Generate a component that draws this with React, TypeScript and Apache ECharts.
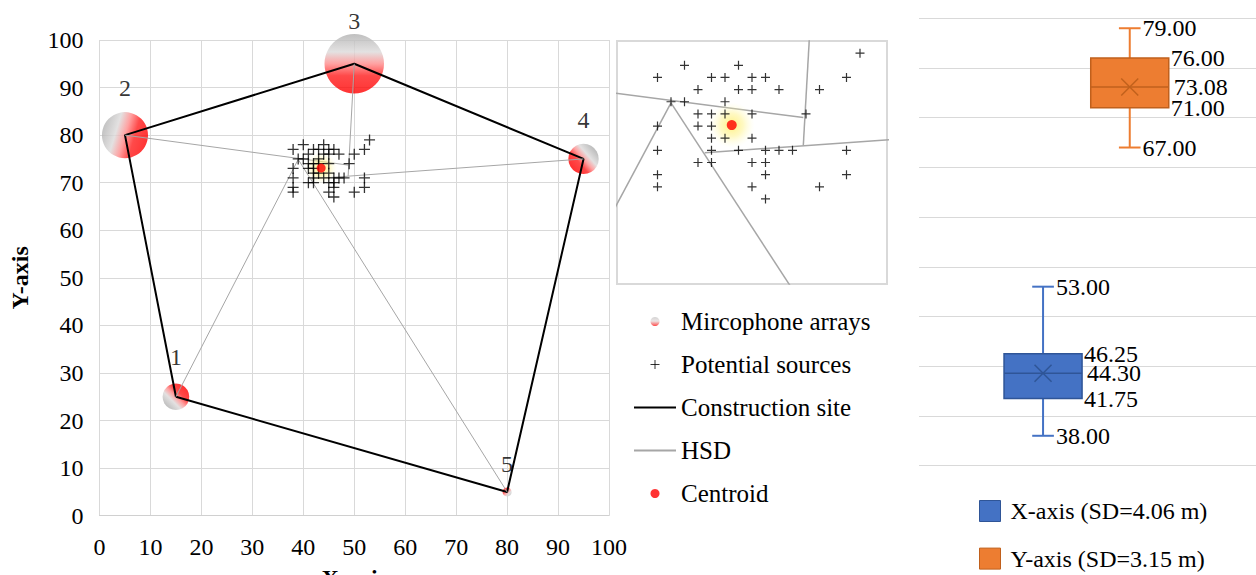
import React, { useEffect, useRef } from 'react';
import * as echarts from 'echarts';

// ---------------- data ----------------
const micNames = ['1', '2', '3', '4', '5'];
const micX = [15, 5, 50, 95, 80];
const micY = [25, 80, 95, 75, 5];
const micWeight = [0.2, 0.6, 1.0, 0.26, 0.023];
const siteOrder = [0, 1, 2, 3, 4, 0];

const potentialSources: [number, number][] = [
  [53, 79],
  [40, 78], [44, 78],
  [38, 77], [42, 77], [43, 77], [45, 77], [46, 77], [52, 77],
  [41, 76], [44, 76], [45, 76], [47, 76], [50, 76],
  [39, 75], [40, 75], [43, 75],
  [41, 74], [42, 74], [43, 74], [45, 74], [49, 74],
  [38, 73], [41, 73], [42, 73],
  [42, 72], [43, 72], [45, 72],
  [38, 71], [42, 71], [44, 71], [46, 71], [47, 71], [48, 71], [52, 71],
  [41, 70], [42, 70], [45, 70], [46, 70],
  [38, 69], [46, 69], [52, 69],
  [38, 68], [45, 68], [50, 68],
  [46, 67],
];

const centroid: [number, number] = [43.5, 73.08];

const hsdSegments: [number, number][][] = [
  [[5, 80], [48.8, 73.7]],
  [[15, 25], [39, 74.9]],
  [[80, 5], [39, 74.9]],
  [[50, 95], [48.8, 71.4]],
  [[95, 75], [41.5, 70.8]],
];

const axisTicks = [0, 10, 20, 30, 40, 50, 60, 70, 80, 90, 100];

const boxCategories = ['X-axis', 'Y-axis'];
const boxNames = ['X-axis (SD=4.06 m)', 'Y-axis (SD=3.15 m)'];
const xStats = [38.0, 41.75, 44.3, 46.25, 53.0]; // min, Q1, median, Q3, max
const yStats = [67.0, 71.0, 73.08, 76.0, 79.0];
const boxMeans = [44.3, 73.08];

// ---------------- styles ----------------
const FONT = '"Liberation Serif", "Times New Roman", Times, serif';
const CROSS = 'path://M0 5H10M5 0V10';
const micLabelDist = [14, 12, 1, 12, 11];
// gradient direction (grey end -> red end) for each bubble, in its bounding box
const micShadeDir = [
  [0.15, 0.85, 0.85, 0.15],
  [0, 0.35, 1, 0.65],
  [0.5, 0, 0.5, 1],
  [0.85, 0.2, 0.15, 0.8],
  [1, 1, 0, 0],
];

const bubbleStops = [
  { offset: 0, color: '#b0b0b0' },
  { offset: 0.3, color: '#dcdada' },
  { offset: 0.5, color: '#ff8a8a' },
  { offset: 0.7, color: '#ff1c1c' },
  { offset: 1, color: '#ff0000' },
];

function bubbleGradient(i: number) {
  const [x, y, x2, y2] = micShadeDir[i];
  return new echarts.graphic.LinearGradient(x, y, x2, y2, bubbleStops.map((s) => ({ ...s })));
}

const glow = () =>
  new echarts.graphic.RadialGradient(0.5, 0.5, 0.5, [
    { offset: 0, color: 'rgba(255,236,90,0.95)' },
    { offset: 0.5, color: 'rgba(255,242,130,0.6)' },
    { offset: 1, color: 'rgba(255,255,210,0)' },
  ]);

const boxColors = [
  { fill: '#4472C4', stroke: '#2F5597' },
  { fill: '#ED7D31', stroke: '#C0601C' },
];

function boxRender(ci: number) {
  return (params: any, api: any) => {
    const cat = api.value(0);
    const mn = api.value(1);
    const q1 = api.value(2);
    const md = api.value(3);
    const q3 = api.value(4);
    const mx = api.value(5);
    const mean = api.value(6);
    const bw = api.size([1, 0])[0];
    const cx = api.coord([cat, md])[0];
    const py = (v: number) => api.coord([cat, v])[1];
    const hb = bw * 0.45;
    const hc = bw * 0.125;
    const { fill, stroke } = boxColors[ci];
    const font = `24px ${FONT}`;
    const txt = (v: number, x: number) => ({
      type: 'text',
      style: { text: v.toFixed(2), x, y: py(v), fill: '#000', font, align: 'left', verticalAlign: 'middle' },
    });
    const m = 8.5;
    return {
      type: 'group',
      children: [
        { type: 'line', shape: { x1: cx, y1: py(mx), x2: cx, y2: py(q3) }, style: { stroke: fill, lineWidth: 2 } },
        { type: 'line', shape: { x1: cx, y1: py(q1), x2: cx, y2: py(mn) }, style: { stroke: fill, lineWidth: 2 } },
        { type: 'line', shape: { x1: cx - hc, y1: py(mx), x2: cx + hc, y2: py(mx) }, style: { stroke: fill, lineWidth: 2 } },
        { type: 'line', shape: { x1: cx - hc, y1: py(mn), x2: cx + hc, y2: py(mn) }, style: { stroke: fill, lineWidth: 2 } },
        {
          type: 'rect',
          shape: { x: cx - hb, y: py(q3), width: hb * 2, height: py(q1) - py(q3) },
          style: { fill, stroke, lineWidth: 1.5 },
        },
        { type: 'line', shape: { x1: cx - hb, y1: py(md), x2: cx + hb, y2: py(md) }, style: { stroke, lineWidth: 1.5 } },
        { type: 'line', shape: { x1: cx - m, y1: py(mean) - m, x2: cx + m, y2: py(mean) + m }, style: { stroke, lineWidth: 1.5 } },
        { type: 'line', shape: { x1: cx - m, y1: py(mean) + m, x2: cx + m, y2: py(mean) - m }, style: { stroke, lineWidth: 1.5 } },
        txt(mx, cx + hc + 2),
        txt(q3, cx + hb + 2),
        txt(mean, cx + hb + 5),
        txt(q1, cx + hb + 2),
        txt(mn, cx + hc + 2),
      ],
    };
  };
}

function buildOption() {
  const mainAxisCommon = {
    type: 'value',
    min: axisTicks[0],
    max: axisTicks[axisTicks.length - 1],
    interval: axisTicks[1] - axisTicks[0],
    nameLocation: 'middle',
    nameTextStyle: { fontSize: 24, fontWeight: 'bold', fontFamily: FONT, color: '#000' },
    axisLine: { show: true, lineStyle: { color: '#d0d0d0', width: 1 } },
    axisTick: { show: false },
    splitLine: { show: true, lineStyle: { color: '#d9d9d9', width: 1 } },
  };

  const series: any[] = [
    {
      name: 'Mircophone arrays',
      type: 'scatter',
      xAxisIndex: 0,
      yAxisIndex: 0,
      z: 1,
      clip: false,
      symbol: 'circle',
      symbolSize: (v: number[]) => 59.5 * Math.sqrt(v[2]),
      itemStyle: {
        color: new echarts.graphic.LinearGradient(0, 0, 0, 1, [
          { offset: 0, color: '#c8c8c8' },
          { offset: 0.45, color: '#e6dede' },
          { offset: 1, color: '#ff2020' },
        ]),
      },
      label: {
        show: true,
        position: 'top',
        formatter: (p: any) => micNames[p.dataIndex],
        fontSize: 24,
        fontFamily: FONT,
        color: '#000',
      },
      data: micX.map((x, i) => ({
        value: [x, micY[i], micWeight[i]],
        itemStyle: { color: bubbleGradient(i) },
        label: { distance: micLabelDist[i] },
      })),
    },
    {
      name: 'Potential sources',
      type: 'scatter',
      xAxisIndex: 0,
      yAxisIndex: 0,
      z: 3,
      symbol: CROSS,
      symbolSize: 11,
      symbolKeepAspect: true,
      itemStyle: { color: '#000', borderColor: '#000', borderWidth: 1.3 },
      data: potentialSources,
    },
    {
      name: 'Construction site',
      type: 'line',
      xAxisIndex: 0,
      yAxisIndex: 0,
      z: 2,
      symbol: 'none',
      itemStyle: { color: '#000' },
      lineStyle: { color: '#000', width: 2 },
      data: siteOrder.map((i) => [micX[i], micY[i]]),
    },
    ...hsdSegments.map((seg) => ({
      name: 'HSD',
      type: 'line',
      xAxisIndex: 0,
      yAxisIndex: 0,
      z: 2,
      symbol: 'none',
      itemStyle: { color: '#a6a6a6' },
      lineStyle: { color: '#a6a6a6', width: 1 },
      data: seg,
    })),
    {
      name: 'Centroid',
      type: 'scatter',
      xAxisIndex: 0,
      yAxisIndex: 0,
      z: 6,
      symbol: 'circle',
      symbolSize: 9,
      itemStyle: { color: '#ff0000' },
      data: [centroid],
    },
    {
      name: 'Centroid',
      type: 'scatter',
      xAxisIndex: 0,
      yAxisIndex: 0,
      z: 2.5,
      symbol: 'circle',
      symbolSize: 32,
      itemStyle: { color: glow() },
      data: [centroid],
    },
    // ---- inset ----
    {
      name: 'Potential sources',
      type: 'scatter',
      xAxisIndex: 1,
      yAxisIndex: 1,
      z: 3,
      symbol: CROSS,
      symbolSize: 9,
      symbolKeepAspect: true,
      itemStyle: { color: '#000', borderColor: '#000', borderWidth: 1.2 },
      data: potentialSources,
    },
    ...hsdSegments.map((seg) => ({
      name: 'HSD',
      type: 'line',
      xAxisIndex: 1,
      yAxisIndex: 1,
      z: 2,
      clip: true,
      symbol: 'none',
      itemStyle: { color: '#a6a6a6' },
      lineStyle: { color: '#a6a6a6', width: 1.5 },
      data: seg,
    })),
    {
      name: 'Centroid',
      type: 'scatter',
      xAxisIndex: 1,
      yAxisIndex: 1,
      z: 6,
      symbol: 'circle',
      symbolSize: 10,
      itemStyle: { color: '#ff0000' },
      data: [centroid],
    },
    {
      name: 'Centroid',
      type: 'scatter',
      xAxisIndex: 1,
      yAxisIndex: 1,
      z: 2.5,
      symbol: 'circle',
      symbolSize: 46,
      itemStyle: { color: glow() },
      data: [centroid],
    },
    // ---- box plots ----
    ...[xStats, yStats].map((st, ci) => ({
      name: boxNames[ci],
      type: 'custom',
      xAxisIndex: 3,
      yAxisIndex: 3,
      itemStyle: { color: boxColors[ci].fill, borderColor: boxColors[ci].stroke, borderWidth: 1 },
      encode: { x: 0, y: [1, 2, 3, 4, 5, 6] },
      renderItem: boxRender(ci),
      data: [[boxCategories[ci], ...st, boxMeans[ci]]],
    })),
  ];

  return {
    animation: false,
    backgroundColor: '#ffffff',
    textStyle: { fontFamily: FONT },
    grid: [
      { left: 99.5, top: 40, width: 509.5, height: 475.7, outerBoundsMode: 'none', containLabel: false },
      {
        left: 617,
        top: 41,
        width: 270,
        height: 243,
        show: true,
        borderColor: '#d9d9d9',
        borderWidth: 2,
        backgroundColor: '#fff',
        outerBoundsMode: 'none',
      },
      { left: 919, top: 18.3, width: 345, height: 447.3, outerBoundsMode: 'none' },
      { left: 999.7, top: 18.3, width: 173.4, height: 447.3, outerBoundsMode: 'none' },
    ],
    xAxis: [
      {
        ...mainAxisCommon,
        gridIndex: 0,
        name: 'X-axis',
        nameGap: 50,
        axisLabel: { fontSize: 24, fontFamily: FONT, color: '#000', margin: 19 },
      },
      { gridIndex: 1, type: 'value', min: 35, max: 55, show: false },
      { gridIndex: 2, type: 'value', min: 0, max: 1, show: false },
      { gridIndex: 3, type: 'category', data: boxCategories, show: false },
    ],
    yAxis: [
      {
        ...mainAxisCommon,
        gridIndex: 0,
        name: 'Y-axis',
        nameGap: 68,
        axisLine: { show: false },
        axisLabel: { fontSize: 24, fontFamily: FONT, color: '#000', margin: 16 },
      },
      { gridIndex: 1, type: 'value', min: 60, max: 80, show: false },
      {
        gridIndex: 2,
        type: 'value',
        min: 35,
        max: 80,
        interval: 5,
        axisLabel: { show: false },
        axisLine: { show: false },
        axisTick: { show: false },
        splitLine: { show: true, lineStyle: { color: '#d9d9d9', width: 1 } },
      },
      { gridIndex: 3, type: 'value', min: 35, max: 80, show: false },
    ],
    legend: [
      {
        orient: 'vertical',
        left: 633,
        top: 309,
        padding: 0,
        itemWidth: 42,
        itemHeight: 9,
        itemGap: 18,
        textStyle: { fontSize: 25, fontFamily: FONT, color: '#000' },
        data: [
          { name: 'Mircophone arrays', icon: 'circle' },
          { name: 'Potential sources', itemStyle: { borderWidth: 1 } },
          { name: 'Construction site', itemStyle: { opacity: 0 } },
          { name: 'HSD', itemStyle: { opacity: 0 } },
          { name: 'Centroid', icon: 'circle' },
        ],
      },
      {
        orient: 'vertical',
        left: 979,
        top: 499,
        height: 120,
        padding: 0,
        itemWidth: 21,
        itemHeight: 21,
        itemGap: 23.6,
        icon: 'rect',
        textStyle: { fontSize: 24, fontFamily: FONT, color: '#000', padding: [0, 0, 0, 5] },
        data: boxNames.map((n) => ({ name: n, itemStyle: { borderWidth: 1 } })),
      },
    ],
    series,
  };
}

export default function App() {
  const ref = useRef<HTMLDivElement>(null);
  useEffect(() => {
    if (!ref.current) return;
    const chart = echarts.init(ref.current, undefined, { renderer: 'svg' });
    chart.setOption(buildOption() as any);
    return () => chart.dispose();
  }, []);
  return <div ref={ref} style={{ position: 'absolute', left: 0, top: 0, width: 1256, height: 575 }} />;
}
